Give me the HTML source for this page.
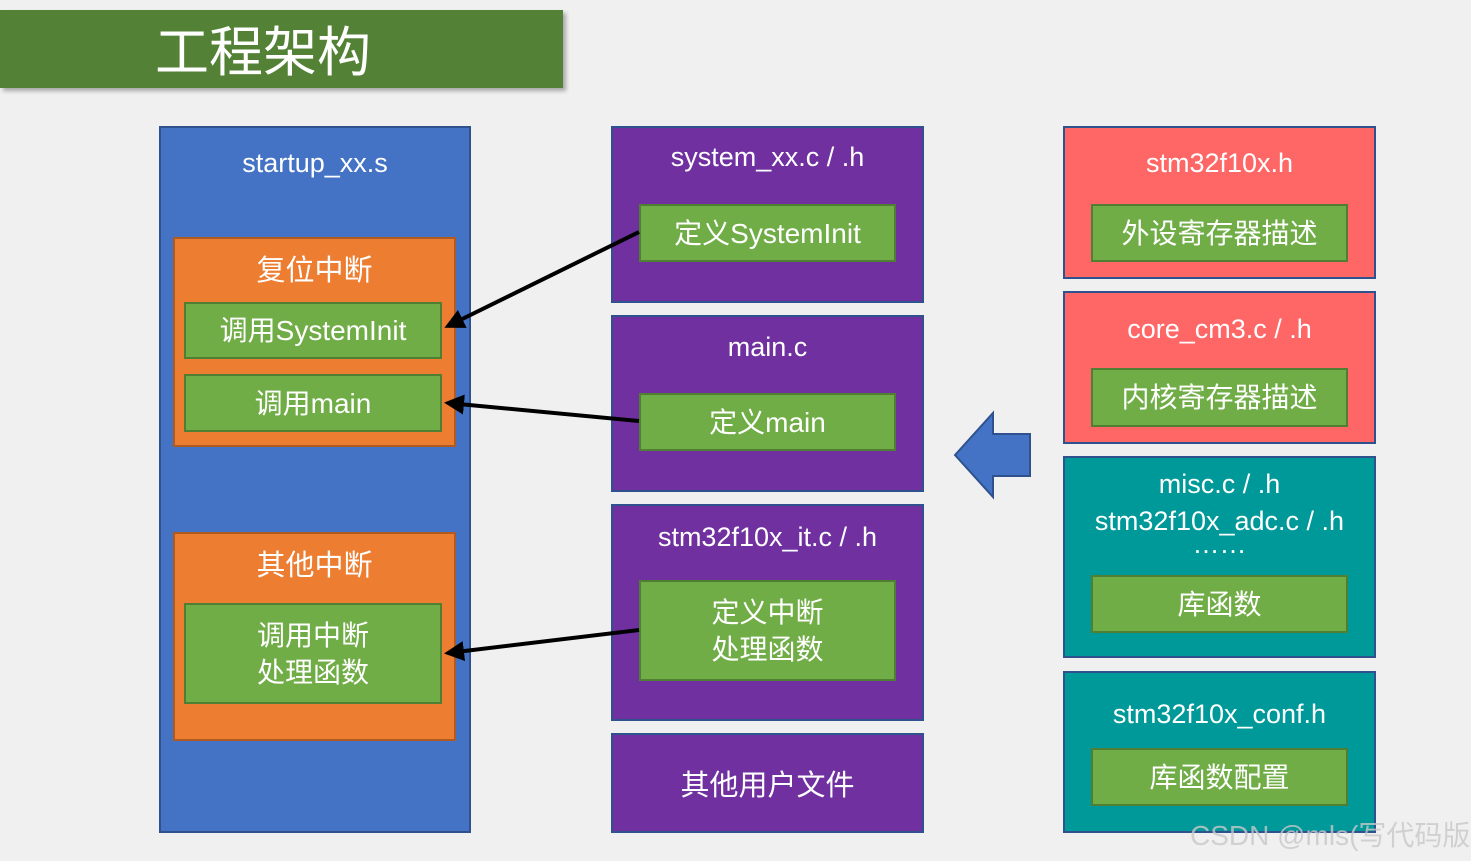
<!DOCTYPE html>
<html><head><meta charset="utf-8"><style>
body{margin:0;width:1471px;height:861px;background:#f0f0f0;position:relative;overflow:hidden;font-family:"Liberation Sans","Noto Sans CJK SC",sans-serif;color:#fff}
.b{position:absolute;box-sizing:border-box;border:2px solid #2F528F}
.g{position:absolute;box-sizing:border-box;background:#70AD47;border:2px solid #507E32;display:flex;align-items:center;justify-content:center;text-align:center;font-size:28px;line-height:37px}
.o{position:absolute;box-sizing:border-box;background:#ED7D31;border:2px solid #AE5A21}
.t{position:absolute;left:0;right:0;text-align:center;font-size:27px}
.p{background:#7030A0}.r{background:#FF6666}.c{background:#009999}
</style></head><body>
<div style="position:absolute;left:0;top:10px;width:563px;height:78px;background:#538135;box-shadow:3px 3px 4px rgba(0,0,0,.3)"></div>
<div style="position:absolute;left:0;top:10px;width:526px;height:76px;line-height:76px;text-align:center;font-size:54px;font-family:'Noto Sans CJK SC',sans-serif">工程架构</div>

<div class="b" style="left:159px;top:126px;width:312px;height:707px;background:#4472C4"><div class="t" style="top:20px">startup_xx.s</div></div>
<div class="o" style="left:173px;top:237px;width:283px;height:210px"><div class="t" style="top:8px;font-size:29px">复位中断</div></div>
<div class="g" style="left:184px;top:302px;width:258px;height:57px">调用SystemInit</div>
<div class="g" style="left:184px;top:374px;width:258px;height:58px">调用main</div>
<div class="o" style="left:173px;top:532px;width:283px;height:209px"><div class="t" style="top:8px;font-size:29px">其他中断</div></div>
<div class="g" style="left:184px;top:603px;width:258px;height:101px">调用中断<br>处理函数</div>

<div class="b p" style="left:611px;top:126px;width:313px;height:177px"><div class="t" style="top:14px">system_xx.c / .h</div></div>
<div class="g" style="left:639px;top:204px;width:257px;height:58px">定义SystemInit</div>
<div class="b p" style="left:611px;top:315px;width:313px;height:177px"><div class="t" style="top:15px">main.c</div></div>
<div class="g" style="left:639px;top:393px;width:257px;height:58px">定义main</div>
<div class="b p" style="left:611px;top:504px;width:313px;height:217px"><div class="t" style="top:16px">stm32f10x_it.c / .h</div></div>
<div class="g" style="left:639px;top:580px;width:257px;height:101px">定义中断<br>处理函数</div>
<div class="b p" style="left:611px;top:733px;width:313px;height:100px;display:flex;align-items:center;justify-content:center;font-size:29px">其他用户文件</div>

<div class="b r" style="left:1063px;top:126px;width:313px;height:153px"><div class="t" style="top:20px">stm32f10x.h</div></div>
<div class="g" style="left:1091px;top:204px;width:257px;height:58px">外设寄存器描述</div>
<div class="b r" style="left:1063px;top:291px;width:313px;height:153px"><div class="t" style="top:21px">core_cm3.c / .h</div></div>
<div class="g" style="left:1091px;top:368px;width:257px;height:59px">内核寄存器描述</div>
<div class="b c" style="left:1063px;top:456px;width:313px;height:202px"><div class="t" style="top:8px;line-height:37px">misc.c / .h<br>stm32f10x_adc.c / .h<br><span style="position:relative;top:-14px">……</span></div></div>
<div class="g" style="left:1091px;top:575px;width:257px;height:58px">库函数</div>
<div class="b c" style="left:1063px;top:671px;width:313px;height:162px"><div class="t" style="top:26px">stm32f10x_conf.h</div></div>
<div class="g" style="left:1091px;top:748px;width:257px;height:58px">库函数配置</div>

<svg width="1471" height="861" style="position:absolute;left:0;top:0">
<defs><marker id="a" markerWidth="5" markerHeight="5" refX="4" refY="2.5" orient="auto"><path d="M0,0L5,2.5L0,5z" fill="#000"/></marker></defs>
<g stroke="#000" stroke-width="4" marker-end="url(#a)">
<line x1="639" y1="232" x2="448" y2="326"/>
<line x1="639" y1="421" x2="448" y2="403"/>
<line x1="639" y1="630" x2="448" y2="653"/>
</g>
<polygon points="955,455 993,413 993,434 1030,434 1030,476 993,476 993,497" fill="#4472C4" stroke="#2F528F" stroke-width="2"/>
<text x="1190" y="845" font-size="28" fill="rgba(200,200,200,.8)" font-family="Liberation Sans,Noto Sans CJK SC,sans-serif">CSDN @mls(写代码版</text>
</svg>
</body></html>
